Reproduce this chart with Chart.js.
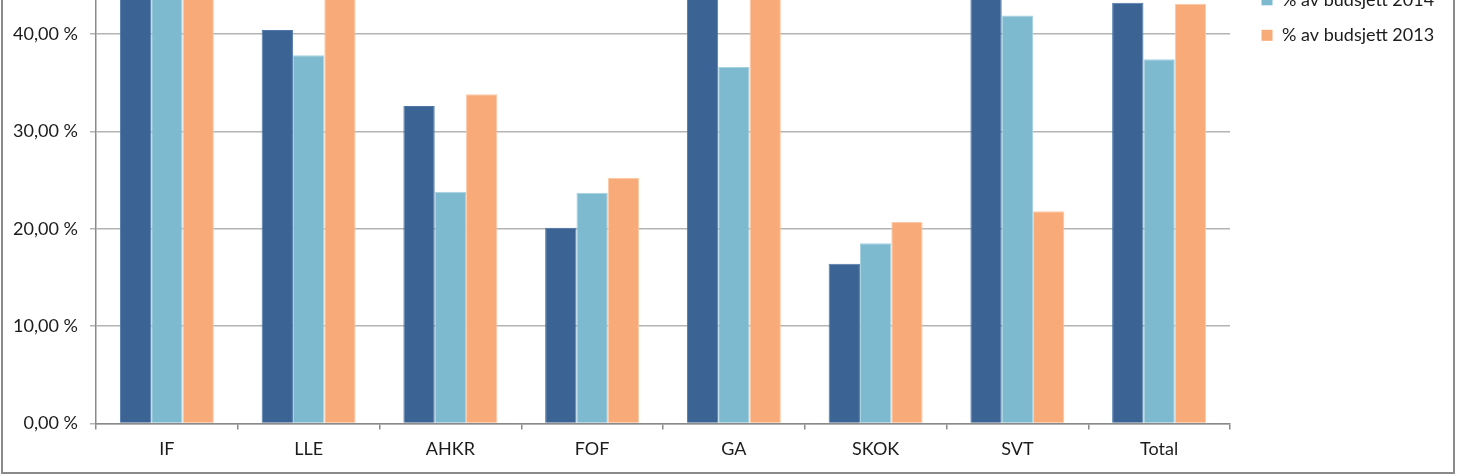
<!DOCTYPE html>
<html>
<head>
<meta charset="utf-8">
<script src="https://cdn.jsdelivr.net/npm/chart.js@4.4.1/dist/chart.umd.min.js"></script>
<style>
  html, body { margin:0; padding:0; background:#fff; }
  #wrap { position:relative; width:1457px; height:476px; overflow:hidden; background:#fff; }
  #c { position:absolute; left:0; top:-100px; }
  #frame { position:absolute; left:1px; top:-10px; width:1450px; height:480px; border:2px solid #8a8a8a; pointer-events:none; }
</style>
</head>
<body>
<div id="wrap">
  <canvas id="c" width="1457" height="576"></canvas>
  <div id="frame"></div>
</div>
<script>
const categories = ["IF", "LLE", "AHKR", "FOF", "GA", "SKOK", "SVT", "Total"];
const seriesNames = ["% av budsjett 2015", "% av budsjett 2014", "% av budsjett 2013"];
const values2015 = [48.0, 40.4, 32.6, 20.1, 45.5, 16.4, 46.0, 43.2];
const values2014 = [46.5, 37.8, 23.8, 23.7, 36.6, 18.5, 41.9, 37.4];
const values2013 = [50.0, 46.0, 33.8, 25.2, 47.0, 20.7, 21.8, 43.1];
const yTicks = [0, 10, 20, 30, 40, 50];

const fillColors = ["#3B6495", "#7EBACF", "#F8AB78"];
const edgeColors = ["#4F78AA", "#A6D2E0", "#FCC9A6"];
const FONT = "Lato, 'Open Sans', sans-serif";
const TEXT = "#1c1c1c";

const legendPlugin = {
  id: 'sideLegend',
  afterDraw(chart) {
    const ctx = chart.ctx;
    ctx.save();
    ctx.font = "18px " + FONT;
    ctx.textBaseline = "middle";
    ctx.textAlign = "left";
    chart.data.datasets.forEach((ds, i) => {
      const yc = 135.3 - (2 - i) * 35.5;
      ctx.fillStyle = ds.backgroundColor;
      ctx.fillRect(1261.5, yc - 5.5, 11, 11);
      ctx.fillStyle = TEXT;
      ctx.fillText(ds.label, 1282, yc);
    });
    ctx.restore();
  }
};

const datasets = [values2015, values2014, values2013].map((vals, i) => ({
  label: seriesNames[i],
  data: vals,
  backgroundColor: fillColors[i],
  borderColor: edgeColors[i],
  borderWidth: 1,
  categoryPercentage: 0.663,
  barPercentage: 1.0
}));

new Chart(document.getElementById('c'), {
  type: 'bar',
  data: { labels: categories, datasets },
  options: {
    responsive: false,
    animation: false,
    devicePixelRatio: 1,
    layout: { padding: { top: 36.5, right: 227, left: 0, bottom: 0 } },
    plugins: { legend: { display: false }, tooltip: { enabled: false } },
    scales: {
      x: {
        grid: { offset: true, drawOnChartArea: false, drawTicks: true, tickLength: 6, color: '#8a8a8a', lineWidth: 1.5 },
        border: { color: '#8a8a8a', width: 1.5 },
        ticks: { color: TEXT, font: { family: FONT, size: 18 }, padding: 8.5 },
        afterFit(s) { s.height = 52.5; }
      },
      y: {
        min: 0, max: 50,
        afterBuildTicks(s) { s.ticks = yTicks.map(v => ({ value: v })); },
        grid: { color: '#b4b4b4', lineWidth: 1.5, tickLength: 6, drawTicks: true },
        border: { color: '#8a8a8a', width: 1.5 },
        ticks: {
          color: TEXT, font: { family: FONT, size: 18 }, padding: 12,
          callback: v => v.toFixed(2).replace('.', ',') + ' %'
        },
        afterFit(s) { s.width = 96; }
      }
    }
  },
  plugins: [legendPlugin]
});
</script>
</body>
</html>
